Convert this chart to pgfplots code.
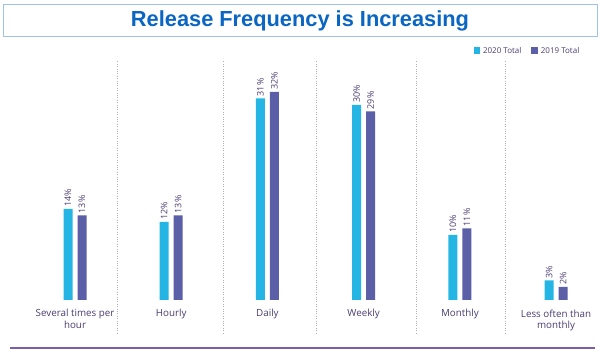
\documentclass[border=0pt]{standalone}
\usepackage{fontspec}
\setmainfont{Open Sans}
\newfontfamily\arialfont{Liberation Sans}
\usepackage{pgfplots}
\pgfplotsset{compat=1.18}
\definecolor{c20}{HTML}{24B5E4}
\definecolor{c19}{HTML}{5A5FA8}
\definecolor{txt}{HTML}{4A3C70}
\definecolor{titleblue}{HTML}{0A66C2}
\definecolor{boxc}{HTML}{9EC2EA}
\definecolor{sepc}{HTML}{B0A8C8}
\definecolor{basec}{HTML}{7E5DA8}
\begin{document}
\begin{tikzpicture}[x=1pt,y=1pt]
\useasboundingbox (0,0) rectangle (600,353);
\draw[boxc, line width=1pt] (3,316) rectangle (597,348);
\node[font=\arialfont\bfseries\fontsize{21.8}{24}\selectfont, text=titleblue] at (300,332) {Release Frequency is Increasing};
\begin{axis}[
  at={(10pt,20pt)}, anchor=south west, scale only axis,
  width=585pt, height=273pt,
  xmin=-0.676, xmax=5.405, ymin=-5.08, ymax=36.92,
  ybar=5pt, bar width=9pt,
  axis line style={draw=none},
  ytick=\empty,
  xtick={0,1,2,3,4,5},
  xticklabels={{Several times per\\hour},{Hourly},{Daily},{Weekly},{Monthly},{Less often than\\monthly}},
  xticklabel style={align=center, yshift=27pt, font=\fontsize{9.8}{11.5}\selectfont, text=txt},
  major tick length=0pt, minor tick length=0pt,
  minor xtick={0.437,1.54,2.505,3.545,4.47},
  xminorgrids,
  minor grid style={dotted, sepc, line width=0.8pt},
  clip=false,
  /pgf/number format/assume math mode=true,
  nodes near coords={\pgfmathprintnumber{\pgfplotspointmeta}\%},
  nodes near coords style={rotate=90, anchor=west, font=\fontsize{9}{10}\selectfont, text=txt, inner sep=2pt},
  legend style={at={(axis description cs:0.982,1.034)}, anchor=east, draw=none, fill=none,
     font=\fontsize{8}{9}\selectfont, text=txt, legend columns=2, column sep=8pt,
     /tikz/every odd column/.style={column sep=1pt}},
  legend image code/.code={\fill[#1] (0pt,-3pt) rectangle (6.5pt,3.5pt);},
]
\addplot[fill=c20, draw=none] coordinates {(0,14) (1,12) (2,31) (3,30) (4,10) (5,3)};
\addplot[fill=c19, draw=none] coordinates {(0,13) (1,13) (2,32) (3,29) (4,11) (5,2)};
\legend{2020 Total, 2019 Total}
\end{axis}
\draw[basec, line width=1.5pt] (10,5) -- (595,5);
\end{tikzpicture}
\end{document}
